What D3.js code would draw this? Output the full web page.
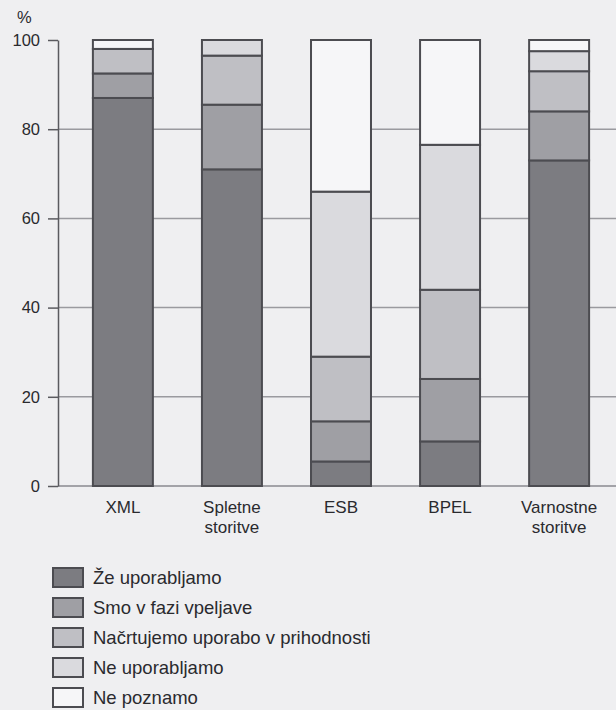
<!DOCTYPE html>
<html>
<head>
<meta charset="utf-8">
<script src="https://cdn.jsdelivr.net/npm/d3@7/dist/d3.min.js"></script>
<style>
  html, body { margin: 0; padding: 0; background: #efeff1; }
  svg { display: block; }
  text { font-family: "Liberation Sans", Arial, Helvetica, sans-serif; fill: #2a2a2e; }
</style>
</head>
<body>
<svg id="chart" width="616" height="710"></svg>
<script>
// Technology categories (x axis); multi-line labels split on "\n"
const categories = ["XML", "Spletne\nstoritve", "ESB", "BPEL", "Varnostne\nstoritve"];

// Share of respondents per answer, in percent, one value per category
const zeUporabljamo   = [87,   71,   5.5, 10,   73];
const smoVFazi        = [5.5,  14.5, 9,   14,   11];
const nacrtujemo      = [5.5,  11,   14.5, 20,  9];
const neUporabljamo   = [0,    3.5,  37,  32.5, 4.5];
const nePoznamo       = [2,    0,    34,  23.5, 2.5];

const seriesNames = [
  "Že uporabljamo",
  "Smo v fazi vpeljave",
  "Načrtujemo uporabo v prihodnosti",
  "Ne uporabljamo",
  "Ne poznamo"
];
const seriesValues = [zeUporabljamo, smoVFazi, nacrtujemo, neUporabljamo, nePoznamo];
const yTicks = [0, 20, 40, 60, 80, 100];

const fills = ["#7c7c81", "#9f9fa4", "#bfbfc4", "#dadade", "#f6f6f8"];
const strokeCol = "#4c4c51";

const svg = d3.select("#chart");

const x = d3.scaleBand()
  .domain(categories)
  .range([58, 624])
  .paddingInner(0.45)
  .paddingOuter(0.32);

const y = d3.scaleLinear().domain([0, 100]).range([486, 40]);

// Horizontal gridlines behind the bars
svg.append("g")
  .selectAll("line")
  .data(yTicks.filter(d => d > 0 && d < 100))
  .join("line")
  .attr("x1", 58).attr("x2", 616)
  .attr("y1", d => y(d)).attr("y2", d => y(d))
  .attr("stroke", "#9a9a9f")
  .attr("stroke-width", 1.5);

// Baseline at 0
svg.append("line")
  .attr("x1", 58).attr("x2", 616)
  .attr("y1", y(0)).attr("y2", y(0))
  .attr("stroke", "#8a8a8f")
  .attr("stroke-width", 1.5);

// Y axis with outward ticks
const yAxis = d3.axisLeft(y)
  .tickValues(yTicks)
  .tickSize(10)
  .tickSizeOuter(0)
  .tickPadding(8);

const gy = svg.append("g")
  .attr("transform", "translate(58,0)")
  .call(yAxis);
gy.select(".domain").attr("stroke", "#5a5a5f").attr("stroke-width", 1.5);
gy.selectAll(".tick line").attr("stroke", "#5a5a5f").attr("stroke-width", 1.5);
gy.selectAll(".tick text")
  .attr("font-size", 16.5)
  .attr("fill", "#2a2a2e")
  .style("font-family", "'Liberation Sans', Arial, sans-serif");

svg.append("text")
  .attr("x", 17).attr("y", 23)
  .attr("font-size", 16.5)
  .text("%");

// Stacked bars
const table = categories.map((c, i) => {
  const row = { cat: c };
  seriesNames.forEach((s, k) => { row[s] = seriesValues[k][i]; });
  return row;
});
const stack = d3.stack().keys(seriesNames)(table);

stack.forEach((layer, k) => {
  svg.append("g")
    .selectAll("rect")
    .data(layer.filter(d => d[1] - d[0] > 0))
    .join("rect")
    .attr("x", d => x(d.data.cat))
    .attr("width", x.bandwidth())
    .attr("y", d => y(d[1]))
    .attr("height", d => y(d[0]) - y(d[1]))
    .attr("fill", fills[k])
    .attr("stroke", strokeCol)
    .attr("stroke-width", 2);
});

// Category labels
const xl = svg.append("g");
categories.forEach(c => {
  const t = xl.append("text")
    .attr("text-anchor", "middle")
    .attr("font-size", 17)
    .attr("x", x(c) + x.bandwidth() / 2)
    .attr("y", 513);
  c.split("\n").forEach((line, j) => {
    t.append("tspan")
      .attr("x", x(c) + x.bandwidth() / 2)
      .attr("dy", j === 0 ? 0 : 20)
      .text(line);
  });
});

// Legend
const lg = svg.append("g");
seriesNames.forEach((s, k) => {
  const yy = 568 + k * 30;
  lg.append("rect")
    .attr("x", 53).attr("y", yy)
    .attr("width", 30).attr("height", 19)
    .attr("fill", fills[k])
    .attr("stroke", strokeCol)
    .attr("stroke-width", 2);
  lg.append("text")
    .attr("x", 93).attr("y", yy + 16)
    .attr("font-size", 18.5)
    .text(s);
});
</script>
</body>
</html>
